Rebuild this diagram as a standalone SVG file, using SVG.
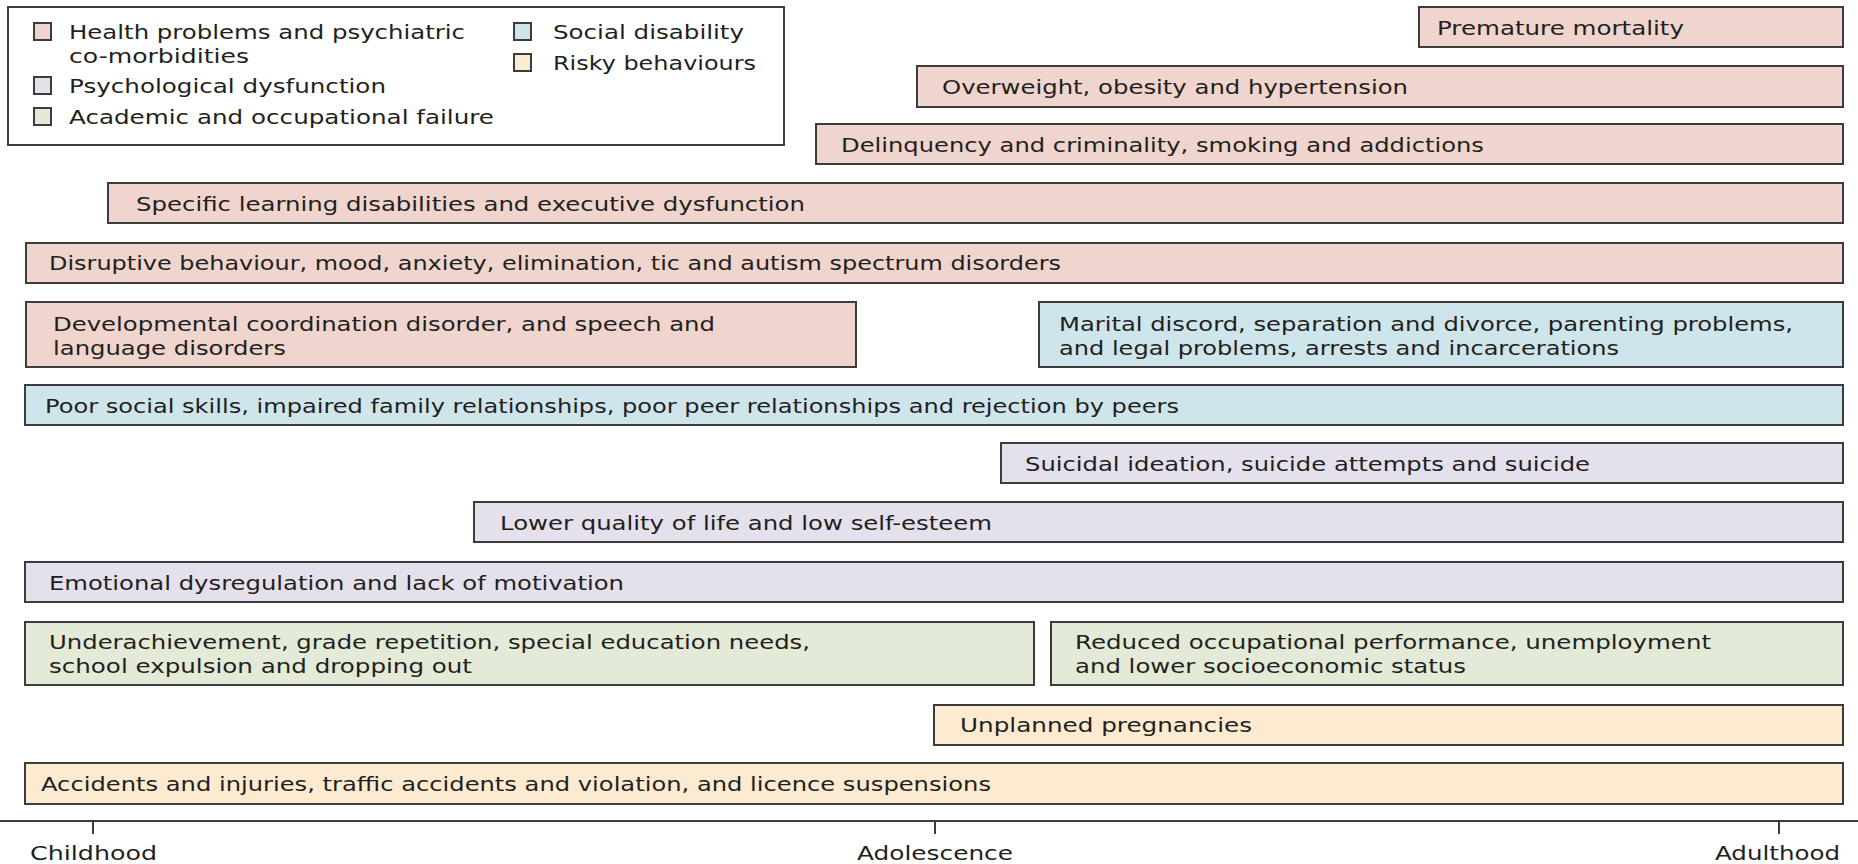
<svg xmlns="http://www.w3.org/2000/svg" width="1858" height="864" viewBox="0 0 1858 864">
<style>
text{font-family:"DejaVu Sans","Open Sans",sans-serif;font-size:20px;fill:#231f20;}
.b{stroke:#3c3c3c;stroke-width:2;}
.h{fill:#efd5cd;}
.s{fill:#cfe5ec;}
.p{fill:#e4e0ec;}
.a{fill:#e3ebd8;}
.r{fill:#fdebd1;}
.ax{stroke:#3c3c3c;stroke-width:2;fill:none;}
</style>
<rect width="1858" height="864" fill="#ffffff"/>
<g id="legend">
<rect x="8" y="7" width="776" height="138" fill="#ffffff" class="b"/>
<rect x="34" y="23" width="17" height="17" class="b h"/>
<text x="69" y="39" textLength="396" lengthAdjust="spacingAndGlyphs">Health problems and psychiatric</text>
<text x="69" y="62.5" textLength="180" lengthAdjust="spacingAndGlyphs">co-morbidities</text>
<rect x="34" y="77" width="17" height="17" class="b p"/>
<text x="69" y="93" textLength="317" lengthAdjust="spacingAndGlyphs">Psychological dysfunction</text>
<rect x="34" y="108" width="17" height="17" class="b a"/>
<text x="69" y="124" textLength="425" lengthAdjust="spacingAndGlyphs">Academic and occupational failure</text>
<rect x="514" y="23" width="17" height="17" class="b s"/>
<text x="553" y="39" textLength="191" lengthAdjust="spacingAndGlyphs">Social disability</text>
<rect x="514" y="54" width="17" height="17" class="b r"/>
<text x="553" y="70" textLength="203" lengthAdjust="spacingAndGlyphs">Risky behaviours</text>
</g>
<g id="n1"><rect x="1419" y="7" width="424" height="40" class="b h"/><text x="1437" y="34.5" textLength="247" lengthAdjust="spacingAndGlyphs">Premature mortality</text></g>
<g id="n2"><rect x="917" y="66" width="926" height="41" class="b h"/><text x="942" y="94" textLength="466" lengthAdjust="spacingAndGlyphs">Overweight, obesity and hypertension</text></g>
<g id="n3"><rect x="816" y="124" width="1027" height="40" class="b h"/><text x="841" y="152" textLength="643" lengthAdjust="spacingAndGlyphs">Delinquency and criminality, smoking and addictions</text></g>
<g id="n4"><rect x="108" y="183" width="1735" height="40" class="b h"/><text x="136" y="211" textLength="669" lengthAdjust="spacingAndGlyphs">Specific learning disabilities and executive dysfunction</text></g>
<g id="n5"><rect x="26" y="243" width="1817" height="40" class="b h"/><text x="49" y="270" textLength="1012" lengthAdjust="spacingAndGlyphs">Disruptive behaviour, mood, anxiety, elimination, tic and autism spectrum disorders</text></g>
<g id="n6"><rect x="26" y="302" width="830" height="65" class="b h"/><text x="53" y="331" textLength="662" lengthAdjust="spacingAndGlyphs">Developmental coordination disorder, and speech and</text><text x="53" y="354.5" textLength="233" lengthAdjust="spacingAndGlyphs">language disorders</text></g>
<g id="n7"><rect x="1039" y="302" width="804" height="65" class="b s"/><text x="1059" y="331" textLength="734" lengthAdjust="spacingAndGlyphs">Marital discord, separation and divorce, parenting problems,</text><text x="1059" y="354.5" textLength="560" lengthAdjust="spacingAndGlyphs">and legal problems, arrests and incarcerations</text></g>
<g id="n8"><rect x="25" y="385" width="1818" height="40" class="b s"/><text x="45" y="413" textLength="1134" lengthAdjust="spacingAndGlyphs">Poor social skills, impaired family relationships, poor peer relationships and rejection by peers</text></g>
<g id="n9"><rect x="1001" y="443" width="842" height="40" class="b p"/><text x="1025" y="471" textLength="565" lengthAdjust="spacingAndGlyphs">Suicidal ideation, suicide attempts and suicide</text></g>
<g id="n10"><rect x="474" y="502" width="1369" height="40" class="b p"/><text x="500" y="530" textLength="492" lengthAdjust="spacingAndGlyphs">Lower quality of life and low self-esteem</text></g>
<g id="n11"><rect x="25" y="562" width="1818" height="40" class="b p"/><text x="49" y="590" textLength="575" lengthAdjust="spacingAndGlyphs">Emotional dysregulation and lack of motivation</text></g>
<g id="n12"><rect x="25" y="622" width="1009" height="63" class="b a"/><text x="49" y="649" textLength="761" lengthAdjust="spacingAndGlyphs">Underachievement, grade repetition, special education needs,</text><text x="49" y="672.5" textLength="423" lengthAdjust="spacingAndGlyphs">school expulsion and dropping out</text></g>
<g id="n13"><rect x="1051" y="622" width="792" height="63" class="b a"/><text x="1075" y="649" textLength="636" lengthAdjust="spacingAndGlyphs">Reduced occupational performance, unemployment</text><text x="1075" y="672.5" textLength="391" lengthAdjust="spacingAndGlyphs">and lower socioeconomic status</text></g>
<g id="n14"><rect x="934" y="705" width="909" height="40" class="b r"/><text x="960" y="732" textLength="292" lengthAdjust="spacingAndGlyphs">Unplanned pregnancies</text></g>
<g id="n15"><rect x="25" y="763" width="1818" height="41" class="b r"/><text x="41" y="791" textLength="950" lengthAdjust="spacingAndGlyphs">Accidents and injuries, traffic accidents and violation, and licence suspensions</text></g>
<g id="connectors">
<line x1="0" y1="821" x2="1858" y2="821" class="ax"/>
<line x1="93" y1="821" x2="93" y2="834" class="ax"/>
<line x1="935" y1="821" x2="935" y2="834" class="ax"/>
<line x1="1779" y1="821" x2="1779" y2="834" class="ax"/>
</g>
<g id="axis-labels">
<text x="30" y="860" textLength="127" lengthAdjust="spacingAndGlyphs">Childhood</text>
<text x="857" y="860" textLength="156" lengthAdjust="spacingAndGlyphs">Adolescence</text>
<text x="1715" y="860" textLength="125" lengthAdjust="spacingAndGlyphs">Adulthood</text>
</g>
</svg>
